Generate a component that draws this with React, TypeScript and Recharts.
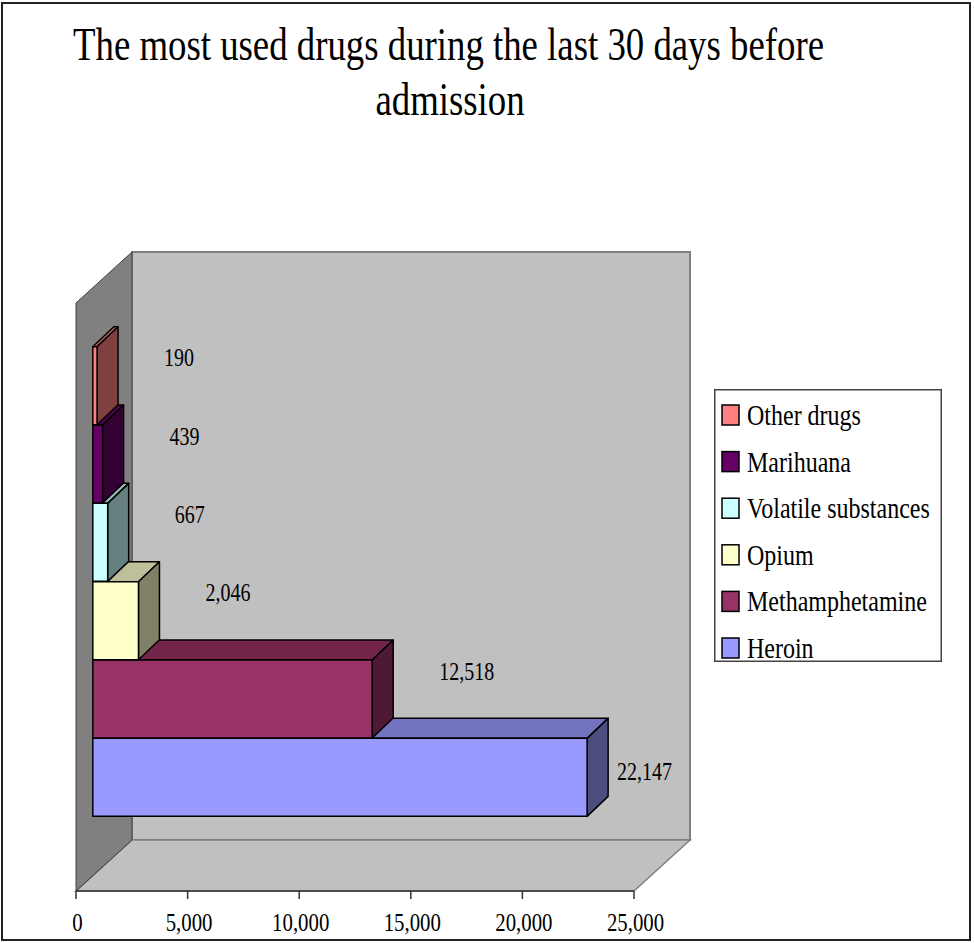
import { Bar, BarChart, LabelList, Legend, ReferenceArea, XAxis, YAxis } from "recharts";

const drugs = ["Heroin", "Methamphetamine", "Opium", "Volatile substances", "Marihuana", "Other drugs"];
const patients = [22147, 12518, 2046, 667, 439, 190];
const xTicks = [0, 5000, 10000, 15000, 20000, 25000];
const titleLines = ["The most used drugs during the last 30 days before", "admission"];

// excel-like 3d palette: front, top and side faces
const frontColors = ["#9999ff", "#993366", "#ffffcc", "#ccffff", "#660066", "#ff8080"];
const topColors = ["#7373bf", "#732649", "#bfbf99", "#99bfbf", "#4d004d", "#bf6060"];
const sideColors = ["#4d4d80", "#4d1933", "#808066", "#668080", "#330033", "#804040"];

const W = 974;
const H = 943;
const MARGIN = { top: 303, right: 340, bottom: 12, left: 76 };
const PAD = 59;
const WALL = { x: 56, y: -51 };
const BAR_OFF = { x: 16.8, y: -15.3 };
const BAR_DEPTH = { x: 21, y: -20 };
const SERIF = "'Liberation Serif', 'Times New Roman', serif";
const SQUEEZE = 0.8;

const data = drugs.map((name, i) => ({ name, value: patients[i] }));

const fmt = (v: number) => v.toLocaleString("en-US");

function Walls(props: any) {
  const { x, y, width, height } = props;
  const l = x;
  const r = x + width;
  const t = y - PAD;
  const b = y + height + PAD;
  return (
    <g>
      <rect x={l + WALL.x} y={t + WALL.y} width={width} height={b - t} fill="#c0c0c0" stroke="#808080" strokeWidth={2} />
      <polygon
        points={`${l},${b} ${l + WALL.x},${b + WALL.y} ${r + WALL.x},${b + WALL.y} ${r},${b}`}
        fill="#c0c0c0"
        stroke="#808080"
        strokeWidth={1.5}
      />
      <polygon
        points={`${l},${t} ${l + WALL.x},${t + WALL.y} ${l + WALL.x},${b + WALL.y} ${l},${b}`}
        fill="#808080"
        stroke="#404040"
        strokeWidth={1}
      />
    </g>
  );
}

function Bar3D(props: any) {
  const { x, y, width, height } = props;
  let i = drugs.indexOf(props.payload?.name ?? props.name);
  if (i < 0) i = props.index ?? 0;
  const fx = x + BAR_OFF.x;
  const fy = y + BAR_OFF.y;
  const r = fx + width;
  const dx = BAR_DEPTH.x;
  const dy = BAR_DEPTH.y;
  return (
    <g stroke="#000" strokeWidth={1.5} strokeLinejoin="round">
      <polygon points={`${fx},${fy} ${r},${fy} ${r + dx},${fy + dy} ${fx + dx},${fy + dy}`} fill={topColors[i]} />
      <polygon points={`${r},${fy} ${r + dx},${fy + dy} ${r + dx},${fy + height + dy} ${r},${fy + height}`} fill={sideColors[i]} />
      <rect x={fx} y={fy} width={width} height={height} fill={frontColors[i]} />
    </g>
  );
}

function ValueLabel(props: any) {
  const { x, y, width, height, value } = props;
  const backRight = x + width + BAR_OFF.x + BAR_DEPTH.x;
  const wanted = backRight + 46;
  const limit = W - MARGIN.right - 17;
  const left = Math.min(wanted, limit);
  const cy = y + BAR_OFF.y + height / 2 - 28 + (wanted - left) * 0.6;
  return (
    <text
      transform={`translate(${left} ${cy + 8.5}) scale(${SQUEEZE} 1)`}
      fontFamily={SERIF}
      fontSize={25}
      fill="#000"
    >
      {fmt(Number(value))}
    </text>
  );
}

function AxisTick(props: any) {
  const { x, y, payload } = props;
  return (
    <text
      transform={`translate(${x + 1.5} ${y + 30}) scale(${SQUEEZE} 1)`}
      textAnchor="middle"
      fontFamily={SERIF}
      fontSize={26}
      fill="#000"
    >
      {fmt(payload.value)}
    </text>
  );
}

function LegendBox() {
  const rows = drugs.map((_, i) => i).reverse();
  return (
    <svg width={228} height={285} style={{ display: "block", overflow: "visible" }}>
      <rect x={0.75} y={0.75} width={226.5} height={271.5} fill="#fff" stroke="#444" strokeWidth={1.5} />
      {rows.map((i, row) => (
        <g key={drugs[i]}>
          <rect x={8} y={16 + row * 46.6} width={17} height={20} fill={frontColors[i]} stroke="#000" strokeWidth={1.5} />
          <text
            transform={`translate(33 ${36 + row * 46.6}) scale(${SQUEEZE} 1)`}
            fontFamily={SERIF}
            fontSize={30}
            fill="#000"
          >
            {drugs[i]}
          </text>
        </g>
      ))}
    </svg>
  );
}

export default function App() {
  return (
    <div style={{ position: "absolute", left: 0, top: 0, width: W, height: H, background: "#fff" }}>
      <svg width={W} height={H} style={{ position: "absolute", left: 0, top: 0 }}>
        <rect x={2} y={3} width={968} height={937} fill="#fff" stroke="#222" strokeWidth={2} />
        {titleLines.map((line, i) => (
          <text
            key={line}
            transform={`translate(${i === 0 ? 448.5 : 450} ${60 + i * 55}) scale(${SQUEEZE} 1)`}
            textAnchor="middle"
            fontFamily={SERIF}
            fontSize={46}
            fill="#000"
          >
            {line}
          </text>
        ))}
      </svg>
      <div style={{ position: "absolute", left: 0, top: 0 }}>
        <BarChart width={W} height={H} data={data} layout="vertical" margin={MARGIN} barCategoryGap={0} barGap={0}>
          <ReferenceArea x1={0} x2={25000} shape={(p: any) => <Walls {...p} />} />
          <XAxis
            type="number"
            domain={[0, 25000]}
            ticks={xTicks}
            interval={0}
            height={40}
            tickSize={8}
            axisLine={{ stroke: "#333", strokeWidth: 1.5 }}
            tickLine={{ stroke: "#333", strokeWidth: 1.5 }}
            tick={<AxisTick />}
          />
          <YAxis type="category" dataKey="name" hide reversed padding={{ top: PAD, bottom: PAD }} />
          <Legend
            layout="vertical"
            align="center"
            verticalAlign="middle"
            wrapperStyle={{ left: 714, top: 389, width: 228, height: 285 }}
            content={() => <LegendBox />}
          />
          <Bar dataKey="value" isAnimationActive={false} shape={(p: any) => <Bar3D {...p} />}>
            <LabelList dataKey="value" content={(p: any) => <ValueLabel {...p} />} />
          </Bar>
        </BarChart>
      </div>
    </div>
  );
}
